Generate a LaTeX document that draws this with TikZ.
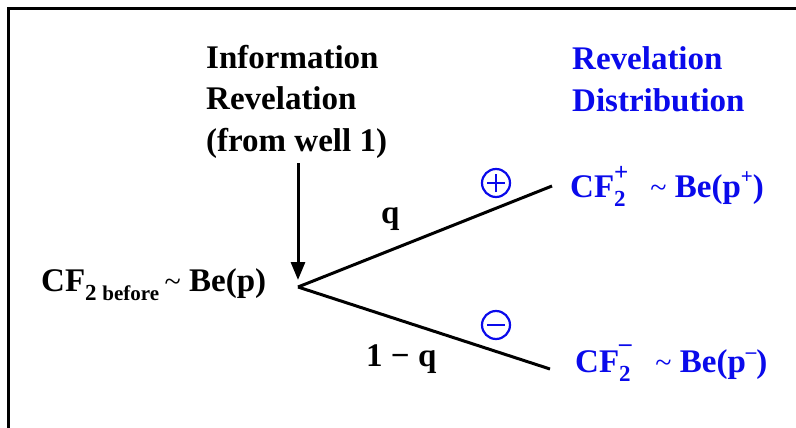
\documentclass[tikz,border=0pt]{standalone}
\usepackage{fontspec}
\setmainfont{Liberation Serif}
\usetikzlibrary{arrows.meta}
\definecolor{revblue}{RGB}{10,10,235}
\tikzset{
  lbl/.style={anchor=base west, inner sep=0pt, font=\fontsize{33}{41.5}\selectfont\bfseries, align=left},
  bluelbl/.style={lbl, text=revblue},
  edge/.style={line width=3pt},
  signc/.style={circle, draw=revblue, line width=2.2pt, minimum size=28pt, inner sep=0pt},
  signl/.style={draw=revblue, line width=2.4pt},
}
\newcommand{\subs}[1]{\raisebox{-0.3em}{\fontsize{23}{23}\selectfont #1}}
\newcommand{\tld}{{\mdseries\fontsize{30}{30}\selectfont\textasciitilde}}
\begin{document}
\begin{tikzpicture}[x=1pt,y=-1pt]
\useasboundingbox (0,0) rectangle (796,428);
\draw[line width=3pt] (8.5,428) -- (8.5,8.5) -- (796,8.5);

\node[lbl] (info) at (206,151) {Information\\Revelation\\(from well 1)};
\node[bluelbl] (dist) at (572,111) {Revelation\\Distribution};

\node[lbl] (before) at (41,291) {CF\subs{2 \fontsize{21}{21}\selectfont before}\,\tld\ Be(p)};
\node[bluelbl] (plustxt) at (570,197) {CF\rlap{\raisebox{0.5em}{\fontsize{25}{25}\selectfont +}}\subs{2}\ \ \ \tld\ Be(p\raisebox{0.42em}{\fontsize{21}{21}\selectfont +})};
\node[bluelbl] (minustxt) at (575,372) {CF\rlap{\raisebox{0.62em}{\fontsize{25}{25}\selectfont\textendash}}\subs{2}\ \ \ \tld\ Be(p\raisebox{0.4em}{\fontsize{21}{21}\selectfont\textendash})};

\coordinate (root) at (298,287);
\coordinate (up) at (552,186);
\coordinate (dn) at (550,369);
\coordinate (arrtop) at (298,163);

\draw[edge] (root) -- (up);
\draw[edge] (root) -- (dn);
\draw[line width=3pt, -{Triangle[length=18pt,width=14pt]}] (arrtop) -- ([yshift=7pt]root);

\node[lbl] (q) at (381,223) {q};
\node[lbl] (oneq) at (366,366) {1 − q};

\node[signc] (plus) at (496,183) {};
\draw[signl] ([xshift=-9pt]plus.center) -- ([xshift=9pt]plus.center);
\draw[signl] ([yshift=-9pt]plus.center) -- ([yshift=9pt]plus.center);
\node[signc] (minus) at (496,325) {};
\draw[signl] ([xshift=-9pt]minus.center) -- ([xshift=9pt]minus.center);
\end{tikzpicture}
\end{document}
